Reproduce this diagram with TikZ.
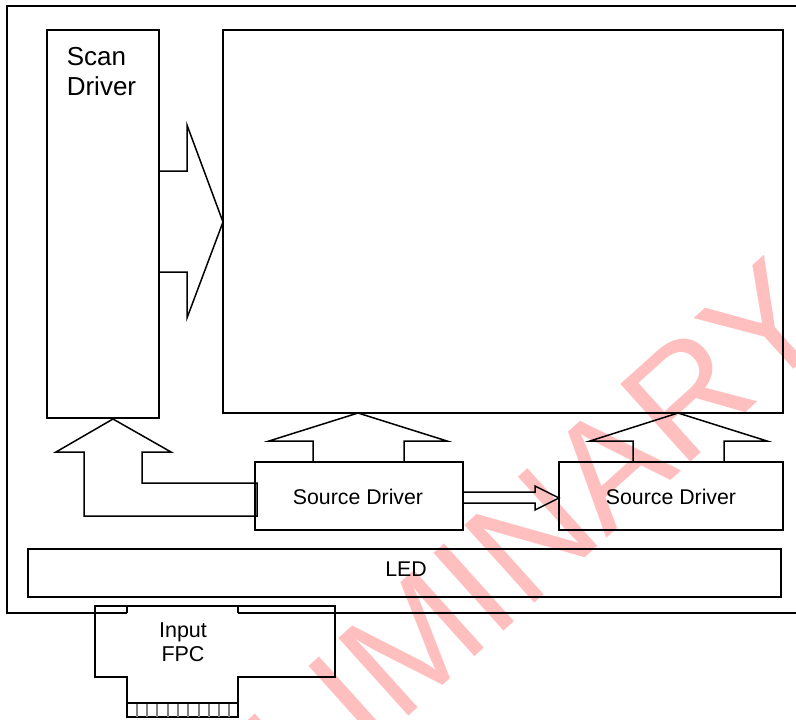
\documentclass[tikz,border=0pt]{standalone}
\usepackage{fontspec}
\setmainfont{Liberation Sans}
\begin{document}
\begin{tikzpicture}[x=1pt,y=-1pt,line width=1.6pt,line join=miter,
  box/.style={draw,line width=1.6pt,inner sep=0pt,outer sep=0pt,anchor=north west},
  lbl/.style={font=\fontsize{21.3}{25}\selectfont,inner sep=0pt},
  blockarrow/.style={draw,line width=1.5pt},
  pin/.style={draw=gray,line width=1.8pt},
  wm/.style={text=red!25,inner sep=0pt,font=\fontsize{152}{152}\selectfont}]
\useasboundingbox (0,0) rectangle (796,720);
% watermark
\node[wm,rotate=42] (wmark) at (420,636) {PRELIMINARY};
% outer frame
\coordinate (frTR) at (805,6);
\coordinate (frBR) at (805,613);
\draw (frTR) -- (7,6) -- (7,613) -- (127,613);
\draw (238,613) -- (frBR);
% boxes
\node[box,minimum width=112pt,minimum height=388pt] (scan) at (47,30) {};
\node[box,minimum width=560pt,minimum height=383pt] (panel) at (223,30) {};
\node[box,minimum width=208pt,minimum height=68pt] (sd1) at (255,462) {};
\node[box,minimum width=224pt,minimum height=68pt] (sd2) at (559,462) {};
\node[box,minimum width=753pt,minimum height=48pt] (led) at (28,549) {};
% labels
\node[inner sep=0pt,anchor=north west,align=left,font=\fontsize{26}{30}\selectfont] (scanlbl) at (66,47) {Scan\\Driver};
\node[lbl] (sd1lbl) at (358,497) {Source Driver};
\node[lbl] (sd2lbl) at (671,497) {Source Driver};
\node[lbl] (ledlbl) at (406,569) {LED};
% scan arrow
\draw[blockarrow] (scan.east |- 0,171) -- (187,171) -- (187,125) -- (panel.west |- 0,222) -- (187,318) -- (187,272) -- (scan.east |- 0,272);
% L-shaped arrow from source driver to scan driver
\draw[blockarrow] (257,516) -- (84,516) -- (84,452) -- (56,452) -- (113,419) -- (171,452) -- (142,452) -- (142,483) -- (257,483) -- cycle;
% up arrows from source drivers
\draw[blockarrow] (313,462) -- (313,441) -- (269,441) -- (358,413) -- (447,441) -- (404,441) -- (404,462);
\draw[blockarrow] (633,462) -- (633,441) -- (590,441) -- (678,413) -- (767,441) -- (724,441) -- (724,462);
% hollow arrow sd1 -> sd2
\draw[blockarrow] (sd1.east |- 0,492) -- (535,492) -- (535,486) -- (sd2.west |- 0,498) -- (535,510) -- (535,503) -- (sd1.east |- 0,503);
% FPC
\draw (95,606) -- (335,606) -- (335,677) -- (238,677) -- (238,717) -- (127,717) -- (127,677) -- (95,677) -- cycle;
\draw (127,606) -- (127,613);
\draw (238,606) -- (238,613);
\foreach \x in {137,147,157,168,178,188,199,209,219,229}
  \draw[pin] (\x,703) -- (\x,717);
\draw (127,703) -- (238,703);
\node[inner sep=0pt,anchor=north,align=center,font=\fontsize{21.5}{24}\selectfont] (fpclbl) at (183,622) {Input\\FPC};
\end{tikzpicture}
\end{document}
